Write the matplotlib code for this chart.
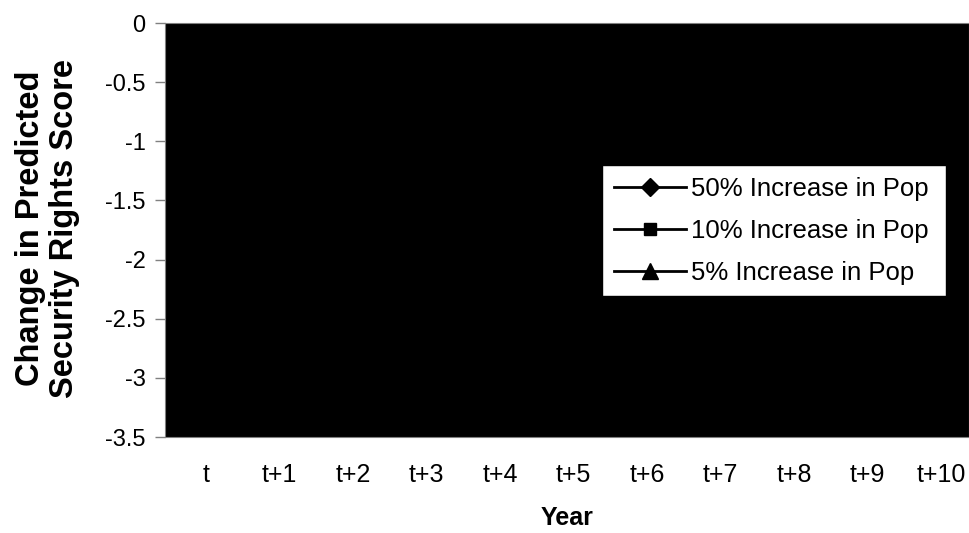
import matplotlib.pyplot as plt
import numpy as np

plt.rcParams['font.family'] = ['Liberation Sans', 'DejaVu Sans']

years = ['t', 't+1', 't+2', 't+3', 't+4', 't+5', 't+6', 't+7', 't+8', 't+9', 't+10']
# lines are black on a black plot area in the reference, so values are rough guesses
pop50 = [0, -0.9, -1.5, -1.9, -2.2, -2.4, -2.55, -2.65, -2.7, -2.75, -2.8]
pop10 = [0, -0.2, -0.35, -0.45, -0.5, -0.55, -0.58, -0.6, -0.62, -0.63, -0.64]
pop5 = [0, -0.1, -0.18, -0.22, -0.25, -0.27, -0.29, -0.3, -0.31, -0.31, -0.32]

fig = plt.figure(figsize=(9.69, 5.33), dpi=100)
ax = fig.add_axes([165/969, 96/533, 804/969, 414/533])
ax.set_facecolor('black')

x = np.arange(len(years))
ax.plot(x, pop50, color='black', marker='D', markersize=9, lw=2, label='50% Increase in Pop')
ax.plot(x, pop10, color='black', marker='s', markersize=9, lw=2, label='10% Increase in Pop')
ax.plot(x, pop5, color='black', marker='^', markersize=11, lw=2, label='5% Increase in Pop')

ax.set_xlim(-0.558, 10.38)
ax.set_ylim(-3.5, 0)
ax.set_xticks(x)
ax.set_xticklabels(years, fontsize=18)
ax.set_yticks(np.arange(-3.5, 0.01, 0.5))
ax.set_yticklabels(['-3.5', '-3', '-2.5', '-2', '-1.5', '-1', '-0.5', '0'], fontsize=17)
ax.tick_params(axis='x', length=0, pad=19)
ax.tick_params(axis='y', length=7, width=1, color='gray', pad=7)
for s in ax.spines.values():
    s.set_color('gray')

fig.text(567/969, 15/533, 'Year', fontsize=18, fontweight='bold', ha='center', va='center')
fig.text(0.049, 0.572, 'Change in Predicted\nSecurity Rights Score', rotation=90,
         fontsize=23.5, fontweight='bold', ha='center', va='center', linespacing=1.12)

leg = ax.legend(loc='upper left', bbox_to_anchor=((602-165)/804, 0.0, (946-602)/804, (437-165)/414),
                mode='expand', fontsize=18.5, frameon=True, fancybox=False, handlelength=2.8,
                handletextpad=0.2, borderpad=0.45, labelspacing=0.7, borderaxespad=0)
leg.get_frame().set_facecolor('white')
leg.get_frame().set_edgecolor('black')
leg.get_frame().set_alpha(1)

fig.savefig('out.png', dpi=100)
